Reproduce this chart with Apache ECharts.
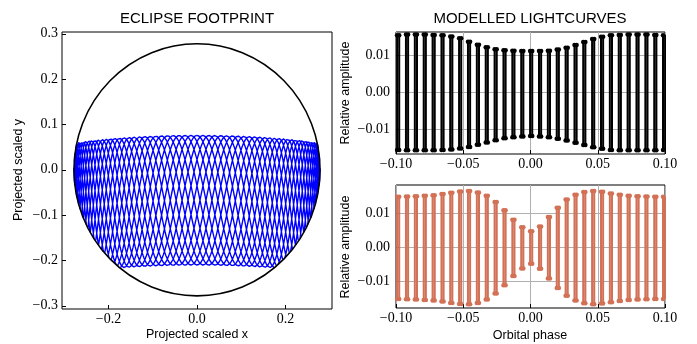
<!DOCTYPE html>
<html><head><meta charset="utf-8">
<script src="https://cdn.jsdelivr.net/npm/echarts@6/dist/echarts.min.js"></script>
<style>html,body{margin:0;padding:0;background:#fff}#c{width:697px;height:344px}</style>
</head><body><div id="c"></div>
<script>
// ---------- Left panel: eclipse footprint ----------
const diskRadius = [0.278];
const footprintEdgeX = [-0.28, 0.0, 0.28];
const footprintTopY = [0.060, 0.076, 0.060];
const footprintBottomY = [-0.226, -0.210, -0.226];
const footprintCycles = [7, 65]; // horizontal sweeps, vertical oscillations (read from lattice density)
const footprintTicksX = [-0.2, 0.0, 0.2];
const footprintTicksY = [-0.3, -0.2, -0.1, 0.0, 0.1, 0.2, 0.3];

// ---------- Right panels: modelled lightcurves (column positions and envelopes read) ----------
const lcPhase = [-0.0984,-0.0918,-0.0852,-0.0786,-0.0720,-0.0654,-0.0589,-0.0523,-0.0457,-0.0391,-0.0325,-0.0259,-0.0193,-0.0127,-0.0061,0.0005,0.0071,0.0137,0.0203,0.0269,0.0335,0.0400,0.0466,0.0532,0.0598,0.0664,0.0730,0.0796,0.0862,0.0928,0.0993];
const lcTopHigh = [0.0153,0.0155,0.0155,0.0155,0.0154,0.0153,0.0150,0.0145,0.0136,0.0128,0.0121,0.0116,0.0113,0.0112,0.0111,0.0111,0.0111,0.0112,0.0115,0.0120,0.0127,0.0135,0.0143,0.0149,0.0153,0.0154,0.0155,0.0155,0.0155,0.0154,0.0153];
const lcTopLow = [-0.0154,-0.0155,-0.0155,-0.0155,-0.0155,-0.0154,-0.0153,-0.0150,-0.0146,-0.0140,-0.0134,-0.0128,-0.0123,-0.0120,-0.0118,-0.0117,-0.0118,-0.0120,-0.0124,-0.0129,-0.0135,-0.0141,-0.0147,-0.0151,-0.0154,-0.0155,-0.0155,-0.0155,-0.0155,-0.0155,-0.0154];
const lcBotHigh = [0.0150,0.0151,0.0152,0.0153,0.0155,0.0158,0.0162,0.0166,0.0167,0.0163,0.0153,0.0135,0.0110,0.0082,0.0060,0.0048,0.0062,0.0090,0.0118,0.0142,0.0156,0.0164,0.0167,0.0165,0.0160,0.0156,0.0153,0.0152,0.0151,0.0150,0.0150];
const lcBotLow = [-0.0152,-0.0153,-0.0154,-0.0155,-0.0157,-0.0160,-0.0164,-0.0167,-0.0168,-0.0164,-0.0154,-0.0136,-0.0112,-0.0084,-0.0062,-0.0048,-0.0063,-0.0092,-0.0120,-0.0143,-0.0157,-0.0165,-0.0168,-0.0166,-0.0162,-0.0158,-0.0155,-0.0154,-0.0153,-0.0152,-0.0152];
const lcTicksX = [-0.10, -0.05, 0.00, 0.05, 0.10];
const lcTicksY = [-0.01, 0.00, 0.01];

// ---------- build series data ----------
function quad(xs, ys, x) { // curve through the three read edge values
  const [x0,x1,x2] = xs, [y0,y1,y2] = ys;
  const l0 = (x-x1)*(x-x2)/((x0-x1)*(x0-x2));
  const l1 = (x-x0)*(x-x2)/((x1-x0)*(x1-x2));
  const l2 = (x-x0)*(x-x1)/((x2-x0)*(x2-x1));
  return y0*l0 + y1*l1 + y2*l2;
}
const footprintData = [];
(function(){
  const R = diskRadius[0];
  const xr = footprintEdgeX[2];
  const [q, p] = footprintCycles;
  const N = 30000;
  let prevIn = false;
  for (let i = 0; i <= N; i++) {
    const t = 2*Math.PI*i/N;
    const x = xr*Math.sin(q*t);
    const top = quad(footprintEdgeX, footprintTopY, x);
    const bot = quad(footprintEdgeX, footprintBottomY, x);
    const y = (top+bot)/2 + (top-bot)/2*Math.cos(p*t);
    const inside = x*x + y*y <= R*R;
    if (inside) footprintData.push([x, y]);
    else if (prevIn) footprintData.push([x, '-']);
    prevIn = inside;
  }
})();

function columns(ph, hi, lo) {
  const d = 0.0008, out = [];
  for (let i = 0; i < ph.length; i++) {
    out.push([ph[i]-d, lo[i]], [ph[i]-d, hi[i]], [ph[i]+d, hi[i]], [ph[i]+d, lo[i]], [ph[i]+d, '-']);
  }
  return out;
}

const minus = s => s.replace('-', '\u2212');
const serif = {fontFamily: 'Liberation Serif', fontSize: 14, color: '#000'};
const sans = 'Liberation Sans';

const chart = echarts.init(document.getElementById('c'), null, {renderer: 'canvas'});
const gridBase = {show: true, borderColor: '#000', borderWidth: 1, backgroundColor: '#fff'};
const tick = vals => ({inside: true, length: 4, customValues: vals, lineStyle: {color: '#000'}});
const option = {
  animation: false,
  grid: [
    Object.assign({left: 62, top: 32, width: 270, height: 277}, gridBase),
    Object.assign({left: 396, top: 32, width: 269, height: 122}, gridBase),
    Object.assign({left: 396, top: 185, width: 269, height: 123}, gridBase)
  ],
  xAxis: [
    {gridIndex: 0, type: 'value', min: -0.305, max: 0.305,
     axisLine: {show: false, onZero: false}, splitLine: {show: false},
     axisTick: tick(footprintTicksX),
     axisLabel: Object.assign({customValues: footprintTicksX, margin: 3, formatter: v => minus(v.toFixed(1))}, serif)},
    {gridIndex: 1, type: 'value', min: -0.1, max: 0.1, interval: 0.05,
     axisLine: {show: false, onZero: false}, splitLine: {show: true, lineStyle: {color: '#b0b0b0', width: 1}},
     axisTick: tick(lcTicksX),
     axisLabel: Object.assign({margin: 3, formatter: v => minus(v.toFixed(2))}, serif)},
    {gridIndex: 2, type: 'value', min: -0.1, max: 0.1, interval: 0.05,
     axisLine: {show: false, onZero: false}, splitLine: {show: true, lineStyle: {color: '#b0b0b0', width: 1}},
     axisTick: tick(lcTicksX),
     axisLabel: Object.assign({margin: 3, formatter: v => minus(v.toFixed(2))}, serif)}
  ],
  yAxis: [
    {gridIndex: 0, type: 'value', min: -0.307, max: 0.304,
     axisLine: {show: false, onZero: false}, splitLine: {show: false},
     axisTick: tick(footprintTicksY),
     axisLabel: Object.assign({customValues: footprintTicksY, margin: 4, formatter: v => minus(v.toFixed(1))}, serif)},
    {gridIndex: 1, type: 'value', min: -0.0165, max: 0.0162,
     axisLine: {show: false, onZero: false}, splitLine: {show: true, lineStyle: {color: '#b0b0b0', width: 1}},
     axisTick: tick(lcTicksY),
     axisLabel: Object.assign({customValues: lcTicksY, margin: 6, formatter: v => minus(v.toFixed(2))}, serif)},
    {gridIndex: 2, type: 'value', min: -0.0179, max: 0.0185,
     axisLine: {show: false, onZero: false}, splitLine: {show: true, lineStyle: {color: '#b0b0b0', width: 1}},
     axisTick: tick(lcTicksY),
     axisLabel: Object.assign({customValues: lcTicksY, margin: 6, formatter: v => minus(v.toFixed(2))}, serif)}
  ],
  series: [
    {type: 'line', xAxisIndex: 0, yAxisIndex: 0, data: footprintData, showSymbol: false,
     lineStyle: {color: '#0000ff', width: 1.4}, connectNulls: false, silent: true, z: 2},
    {type: 'line', xAxisIndex: 1, yAxisIndex: 1, data: columns(lcPhase, lcTopHigh, lcTopLow),
     symbol: 'circle', symbolSize: 4.5, showSymbol: true, showAllSymbol: true,
     lineStyle: {color: '#000', width: 2}, itemStyle: {color: '#000'}, silent: true},
    {type: 'line', xAxisIndex: 2, yAxisIndex: 2, data: columns(lcPhase, lcBotHigh, lcBotLow),
     symbol: 'circle', symbolSize: 4.5, showSymbol: true, showAllSymbol: true,
     lineStyle: {color: '#d27156', width: 2}, itemStyle: {color: '#d27156'}, silent: true}
  ]
};
chart.setOption(option);

// disk outline through the library's scales
const c0 = chart.convertToPixel({gridIndex: 0}, [0, 0]);
const cx = chart.convertToPixel({gridIndex: 0}, [diskRadius[0], 0]);
const cy = chart.convertToPixel({gridIndex: 0}, [0, diskRadius[0]]);
const rx = cx[0] - c0[0], ry = c0[1] - cy[1];
const txt = (text, x, y, size, rot) => ({type: 'text', x: x, y: y, rotation: rot || 0,
  style: {text: text, fontFamily: sans, fontSize: size, fill: '#000', align: 'center', verticalAlign: 'middle'}, z: 10});
chart.setOption({graphic: [
  {type: 'circle', x: c0[0], y: c0[1], scaleX: rx/ry, shape: {cx: 0, cy: 0, r: ry},
   style: {fill: 'none', stroke: '#000', lineWidth: 1.6}, z: 5, silent: true},
  txt('ECLIPSE FOOTPRINT', 197, 19, 15),
  txt('MODELLED LIGHTCURVES', 530, 19, 15),
  txt('Projected scaled x', 197, 335, 12.5),
  txt('Projected scaled y', 19, 170, 12.5, Math.PI/2),
  txt('Relative amplitude', 346, 93, 12.5, Math.PI/2),
  txt('Relative amplitude', 346, 247, 12.5, Math.PI/2),
  txt('Orbital phase', 530, 336, 12.5)
]});
</script></body></html>
